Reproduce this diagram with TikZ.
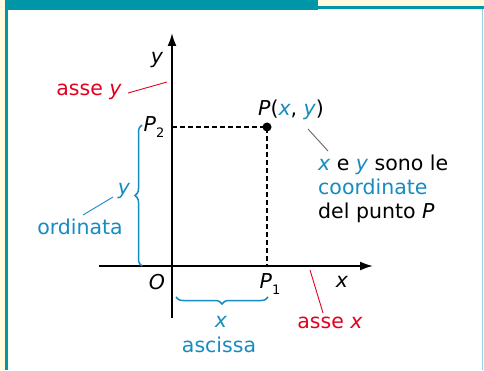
\documentclass[tikz,border=0pt]{standalone}
\usepackage{fontspec}
\setmainfont{DejaVu Sans}
\usetikzlibrary{arrows.meta, decorations.pathreplacing, positioning}

\definecolor{paper}{RGB}{255,251,220}
\definecolor{boxteal}{RGB}{0,150,168}
\definecolor{rimblue}{RGB}{150,210,225}
\definecolor{labblue}{RGB}{22,140,192}
\definecolor{labred}{RGB}{228,0,30}
\newcommand{\fs}{\fontsize{20.5}{24}\selectfont}
\newcommand{\sub}[1]{\raisebox{-6pt}{\upshape\fontsize{13}{13}\selectfont #1}}

\begin{document}
\begin{tikzpicture}[
    x=1pt, y=1pt,
    every node/.style={inner sep=1pt, font=\fs},
    axis/.style={line width=1.9pt, -{Latex[length=13pt,width=9pt]}},
    guide/.style={line width=1.8pt, dash pattern=on 5pt off 3pt},
    lead/.style={line width=0.9pt},
    brc/.style={decorate, decoration={brace, amplitude=7pt}, draw=labblue, line width=1.5pt},
    blu/.style={text=labblue},
    rd/.style={text=labred}
  ]
  \useasboundingbox (0,0) rectangle (484,370);
  % frame
  \fill[paper] (0,0) rectangle (484,370);
  \fill[white] (8,0) rectangle (482,360);
  \fill[boxteal] (5,360) rectangle (318,370);
  \draw[boxteal, line width=3pt] (6.5,0) -- (6.5,362.5) -- (484,362.5);
  \draw[rimblue, line width=1.5pt] (482.5,0) -- (482.5,361);

  % axes
  \coordinate (O) at (172,104);
  \coordinate (ybot) at (172,52);
  \coordinate (ytop) at (172,337);
  \coordinate (xleft) at (99,104);
  \coordinate (xright) at (373,104);
  \coordinate (P) at (267,243);
  \coordinate (P1) at (267,104);
  \coordinate (P2) at (172,243);
  \draw[axis] (xleft) -- (xright);
  \draw[axis] (ybot) -- (ytop);
  \draw[guide] (P2) -- (P) -- (P1);
  \fill (P) circle (4.5pt);

  % axis labels
  \node (ylab) at (157,310) {\itshape y};
  \node (xlab) at (342,88) {\itshape x};
  \node (olab) at (157,88) {\itshape O};
  \node (p1lab) at (270,86) {\itshape P\sub{1}};
  \node (p2lab) at (154,243) {\itshape P\sub{2}};
  \node (plab) at (291,260) {\itshape P\upshape(\textcolor{labblue}{\itshape x}, \textcolor{labblue}{\itshape y})};

  % axis names
  \node[rd] (assey) at (89,278) {asse \itshape y};
  \coordinate (yaxpt) at (167,288);
  \draw[lead, labred] (128,277) coordinate (assetail) -- (yaxpt);
  \node[rd] (assex) at (330,47) {asse \itshape x};
  \coordinate (xaxpt) at (310,100);
  \draw[lead, labred] (assex.north) ++(-7,3) coordinate (assextail) -- (xaxpt);

  % ordinata
  \draw[brc] (142,104) -- (142,245);
  \node[blu] (ylen) at (124,179) {\itshape y};
  \node[blu] (ordin) at (80,143) {ordinata};
  \coordinate (ordtail) at (83,155);
  \coordinate (ordtip) at (113,173);
  \draw[lead, labblue] (ordtail) -- (ordtip);

  % ascissa
  \draw[brc] (268,73) -- (176,73);
  \node[blu] (xlen) at (221,48) {\itshape x};
  \node[blu] (ascis) at (219,25) {ascissa};

  % note
  \node[anchor=north west, align=left, inner sep=0pt] (note) at (318,215)
    {\textcolor{labblue}{\itshape x} e \textcolor{labblue}{\itshape y} sono le\\
     \textcolor{labblue}{coordinate}\\
     del punto \itshape P};
  \coordinate (notetip) at (328,219);
  \draw[lead, black!60] (308,241) coordinate (notetail) -- (notetip);
\end{tikzpicture}
\end{document}
